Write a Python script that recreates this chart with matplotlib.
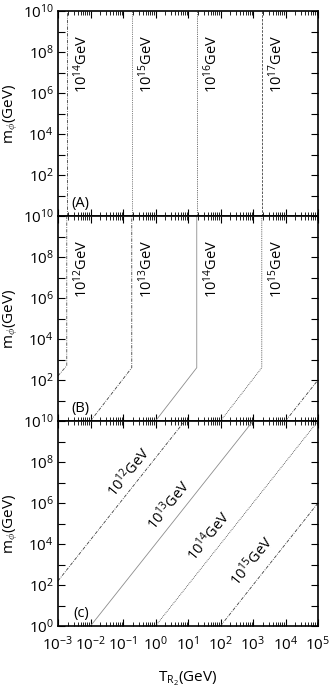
import matplotlib
matplotlib.use("Agg")
import math
import matplotlib.pyplot as plt
from matplotlib.ticker import LogLocator, FuncFormatter, NullFormatter

plt.rcParams['font.family'] = ['Open Sans', 'DejaVu Sans']
plt.rcParams['mathtext.fontset'] = 'custom'
plt.rcParams['mathtext.rm'] = 'Open Sans'
plt.rcParams['mathtext.it'] = 'Open Sans:italic'

# panel A: vertical lines (T_R2 position), full height
a_labels = ['$10^{14}$GeV', '$10^{15}$GeV', '$10^{16}$GeV', '$10^{17}$GeV']
a_T = [1.86e-3, 0.186, 18.6, 1862]
a_m = [1, 1e10]

# panel B: diagonal then vertical
b_labels = ['$10^{12}$GeV', '$10^{13}$GeV', '$10^{14}$GeV', '$10^{15}$GeV', '']
b_T = [[1e-3, 1.86e-3, 1.86e-3],
       [1e-2, 0.186, 0.186],
       [1.0, 18.6, 18.6],
       [100, 1862, 1862],
       [1e4, 1e5]]
b_m = [[10**2.2, 10**2.7, 1e10],
       [1, 10**2.6, 1e10],
       [1, 10**2.6, 1e10],
       [1, 10**2.6, 1e10],
       [1, 1e2]]

# panel C: straight diagonals
c_labels = ['$10^{12}$GeV', '$10^{13}$GeV', '$10^{14}$GeV', '$10^{15}$GeV']
c_T = [[1e-3, 10**0.9], [1e-2, 1e3], [1.0, 1e5], [100, 1e5]]
c_m = [[10**2.2, 1e10], [1, 1e10], [1, 1e10], [1, 1e6]]
c_lab_T = [10**-0.82, 10**0.4, 10**1.66, 10**2.98]
c_lab_m = [10**7.5, 10**5.9, 10**4.4, 10**3.15]

dashdot = (0, (4, 1.5, 1, 1.5))
dotted = (0, (1, 1.2))
dashed = (0, (3, 1.5))
a_styles = [(dashdot, '0.25'), (dotted, '0.35'), (dotted, '0.25'), (dashed, '0.25')]
b_styles = [(dashdot, '0.3'), (dashdot, '0.25'), ('-', '0.55'), (dotted, '0.25'), (dashdot, '0.25')]
c_styles = [(dashdot, '0.25'), ('-', '0.55'), (dotted, '0.25'), (dashdot, '0.25')]

fig = plt.figure(figsize=(3.3, 6.91), dpi=100)
left, width = 58 / 330, 260 / 330
h = 205 / 691
bottoms = [1 - 216 / 691, 1 - 421 / 691, 1 - 626 / 691]
axes = [fig.add_axes([left, b, width, h]) for b in bottoms]


def yfmt(v, pos, hide_zero):
    e = int(round(math.log10(v)))
    if e % 2 or (hide_zero and e == 0):
        return ''
    return '$10^{%d}$' % e


for i, ax in enumerate(axes):
    ax.set_xscale('log')
    ax.set_yscale('log')
    ax.set_xlim(1e-3, 1e5)
    ax.set_ylim(1, 1e10)
    ax.xaxis.set_major_locator(LogLocator(base=10, numticks=20))
    ax.xaxis.set_minor_locator(LogLocator(base=10, subs=(2, 3, 4, 5, 6, 7, 8, 9), numticks=20))
    ax.xaxis.set_minor_formatter(NullFormatter())
    ax.yaxis.set_major_locator(LogLocator(base=10, numticks=20))
    ax.yaxis.set_minor_locator(LogLocator(base=10, subs=(), numticks=20))
    hide = i < 2
    ax.yaxis.set_major_formatter(FuncFormatter(lambda v, p, hz=hide: yfmt(v, p, hz)))
    ax.tick_params(which='both', direction='in', top=True, right=True, labelsize=11)
    ax.tick_params(axis='y', pad=3)
    ax.tick_params(axis='x', pad=7)
    ax.tick_params(which='major', length=5, width=0.8)
    ax.tick_params(which='minor', length=3, width=0.6)
    for s in ax.spines.values():
        s.set_linewidth(1.2)
    if i < 2:
        ax.tick_params(labelbottom=False)
    ax.set_ylabel(r'm$_\phi$(GeV)', fontsize=11, labelpad=2)

axA, axB, axC = axes
for T, lab, (ls, col) in zip(a_T, a_labels, a_styles):
    axA.plot([T, T], a_m, linestyle=ls, color=col, lw=0.6)
    axA.text(T * 1.45, 10**6.0, lab, rotation=90, fontsize=10.5, ha='left', va='bottom')
axA.text(10**-2.3, 10**0.6, '(A)', fontsize=10.5, ha='center', va='center')

for T, m, lab, (ls, col) in zip(b_T, b_m, b_labels, b_styles):
    axB.plot(T, m, linestyle=ls, color=col, lw=0.6)
    if lab:
        axB.text(T[-1] * 1.45, 10**6.0, lab, rotation=90, fontsize=10.5, ha='left', va='bottom')
axB.text(10**-2.3, 10**0.6, '(B)', fontsize=10.5, ha='center', va='center')

for T, m, lab, lt, lm, (ls, col) in zip(c_T, c_m, c_labels, c_lab_T, c_lab_m, c_styles):
    axC.plot(T, m, linestyle=ls, color=col, lw=0.6)
    axC.text(lt, lm, lab, rotation=51, fontsize=10.5, ha='center', va='center',
             rotation_mode='anchor')
axC.text(10**-2.3, 10**0.6, '(c)', fontsize=10.5, ha='center', va='center')
axC.set_xlabel(r'T$_{\mathrm{R}_2}$(GeV)', fontsize=11, labelpad=11)

fig.savefig('out.png', dpi=100)
